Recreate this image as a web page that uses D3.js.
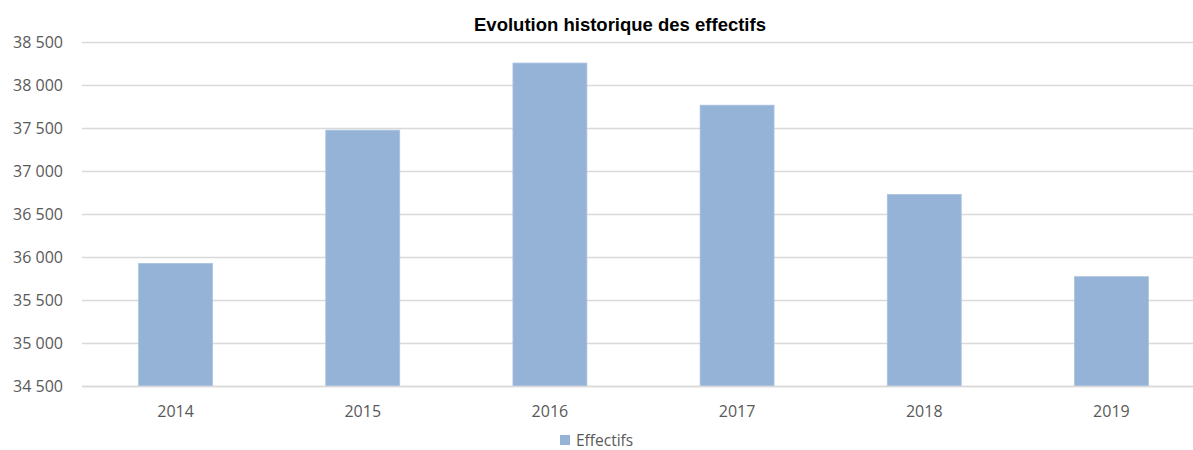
<!DOCTYPE html>
<html>
<head>
<meta charset="utf-8">
<script src="https://cdn.jsdelivr.net/npm/d3@7"></script>
<style>
  body { margin: 0; background: #fff; }
  svg { display: block; }
</style>
</head>
<body>
<div id="chart"></div>
<script>
// data
const years = ["2014", "2015", "2016", "2017", "2018", "2019"];
const effectifs = [35925, 37475, 38255, 37765, 36727, 35771];
const yTicks = [34500, 35000, 35500, 36000, 36500, 37000, 37500, 38000, 38500];
const seriesName = "Effectifs";
const title = "Evolution historique des effectifs";

const width = 1193, height = 450;
const margin = {left: 82, right: -12, top: 42, bottom: 64};

const svg = d3.select("#chart").append("svg")
    .attr("width", width)
    .attr("height", height);

const x = d3.scaleBand()
    .domain(years)
    .range([margin.left, width - margin.right])
    .paddingInner(0.605)
    .paddingOuter(0.3025);

const y = d3.scaleLinear()
    .domain([34500, 38500])
    .range([height - margin.bottom, margin.top]);

const fmt = d => d3.format(",")(d).replace(/,/g, " ");
const labelFont = "'Open Sans', sans-serif";

// gridlines
svg.append("g")
    .selectAll("line")
    .data(yTicks)
    .join("line")
    .attr("x1", margin.left)
    .attr("x2", width)
    .attr("y1", d => Math.round(y(d)) + 0.5)
    .attr("y2", d => Math.round(y(d)) + 0.5)
    .attr("stroke", "#d9d9d9")
    .attr("stroke-width", 1.3);

// y labels
svg.append("g")
    .selectAll("text")
    .data(yTicks)
    .join("text")
    .attr("x", 63)
    .attr("y", d => y(d))
    .attr("dy", "0.35em")
    .attr("text-anchor", "end")
    .attr("font-family", labelFont)
    .attr("font-size", 16)
    .attr("fill", "#595959")
    .text(fmt);

// bars
svg.append("g")
    .selectAll("rect")
    .data(years)
    .join("rect")
    .attr("x", d => x(d))
    .attr("width", x.bandwidth())
    .attr("y", (d, i) => y(effectifs[i]))
    .attr("height", (d, i) => y(34500) - y(effectifs[i]))
    .attr("fill", "#95b3d7")
    .attr("stroke", "#a9c2e0")
    .attr("stroke-width", 0.8);

// baseline
svg.append("line")
    .attr("x1", margin.left)
    .attr("x2", width)
    .attr("y1", Math.round(y(34500)) + 0.5)
    .attr("y2", Math.round(y(34500)) + 0.5)
    .attr("stroke", "#d9d9d9")
    .attr("stroke-width", 1.5);

// x labels
svg.append("g")
    .selectAll("text")
    .data(years)
    .join("text")
    .attr("x", d => x(d) + x.bandwidth() / 2)
    .attr("y", 417)
    .attr("text-anchor", "middle")
    .attr("font-family", labelFont)
    .attr("font-size", 16)
    .attr("fill", "#595959")
    .text(d => d);

// title
svg.append("text")
    .attr("x", 620)
    .attr("y", 31)
    .attr("text-anchor", "middle")
    .attr("font-family", "'Liberation Sans', Arial, sans-serif")
    .attr("font-weight", "bold")
    .attr("font-size", 18.5)
    .attr("fill", "#000")
    .text(title);

// legend
const lg = svg.append("g");
lg.append("rect")
    .attr("x", 560)
    .attr("y", 435)
    .attr("width", 10)
    .attr("height", 10)
    .attr("fill", "#95b3d7");
lg.append("text")
    .attr("x", 576)
    .attr("y", 446)
    .attr("font-family", labelFont)
    .attr("font-size", 15.5)
    .attr("fill", "#595959")
    .text(seriesName);
</script>
</body>
</html>
